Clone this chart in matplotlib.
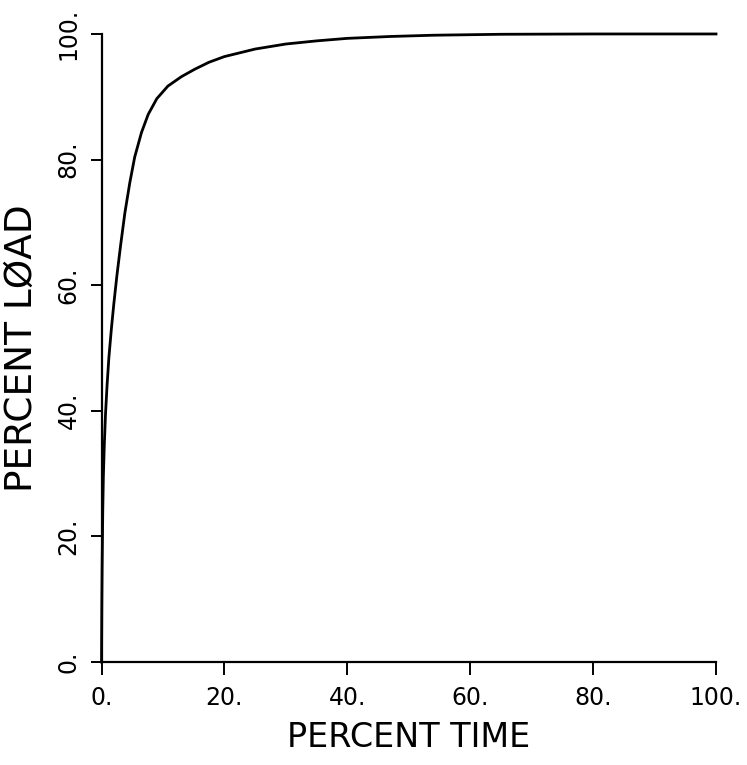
import matplotlib
matplotlib.use("Agg")
import matplotlib.pyplot as plt

# load curve (percent time vs percent load)
pct_time = [0, 0.05, 0.1, 0.2, 0.3, 0.45, 0.65, 0.9, 1.2, 1.6, 2.0, 2.5,
            3.1, 3.8, 4.6, 5.4, 6.5, 7.6, 9.0, 10.8, 13.0, 15.2, 17.5, 20,
            25, 30, 35, 40, 47, 54, 65, 80, 100]
pct_load = [0, 9, 15, 24, 29.5, 34.5, 39.5, 44, 48.5, 53, 57, 61.5,
            66.3, 71.5, 76.3, 80.4, 84.3, 87.2, 89.7, 91.7, 93.2, 94.4, 95.5, 96.4,
            97.6, 98.4, 98.9, 99.3, 99.6, 99.8, 99.95, 100, 100]

tick_vals = [0, 20, 40, 60, 80, 100]
tick_labels = ["0.", "20.", "40.", "60.", "80.", "100."]

fig = plt.figure(figsize=(7.47, 7.65), dpi=100)
ax = fig.add_axes([0.1359, 0.1346, 0.8226, 0.821])

ax.plot(pct_time, pct_load, color="black", lw=2.0, clip_on=False,
        solid_joinstyle="round")

ax.set_xlim(0, 100)
ax.set_ylim(0, 100)
for side in ("top", "right"):
    ax.spines[side].set_visible(False)
for side in ("left", "bottom"):
    ax.spines[side].set_linewidth(1.6)

ax.set_xticks(tick_vals)
ax.set_xticklabels(tick_labels)
ax.set_yticks(tick_vals)
ax.set_yticklabels(tick_labels, rotation=90, va="center")
ax.tick_params(axis="x", direction="out", length=9, width=1.4, pad=8, labelsize=17)
ax.tick_params(axis="y", direction="out", length=8, width=1.4, pad=7, labelsize=17)

ax.set_xlabel("PERCENT TIME", fontsize=24, labelpad=8)
ax.set_ylabel("PERCENT LØAD", fontsize=27, labelpad=12)

fig.savefig("out.png", dpi=100)
